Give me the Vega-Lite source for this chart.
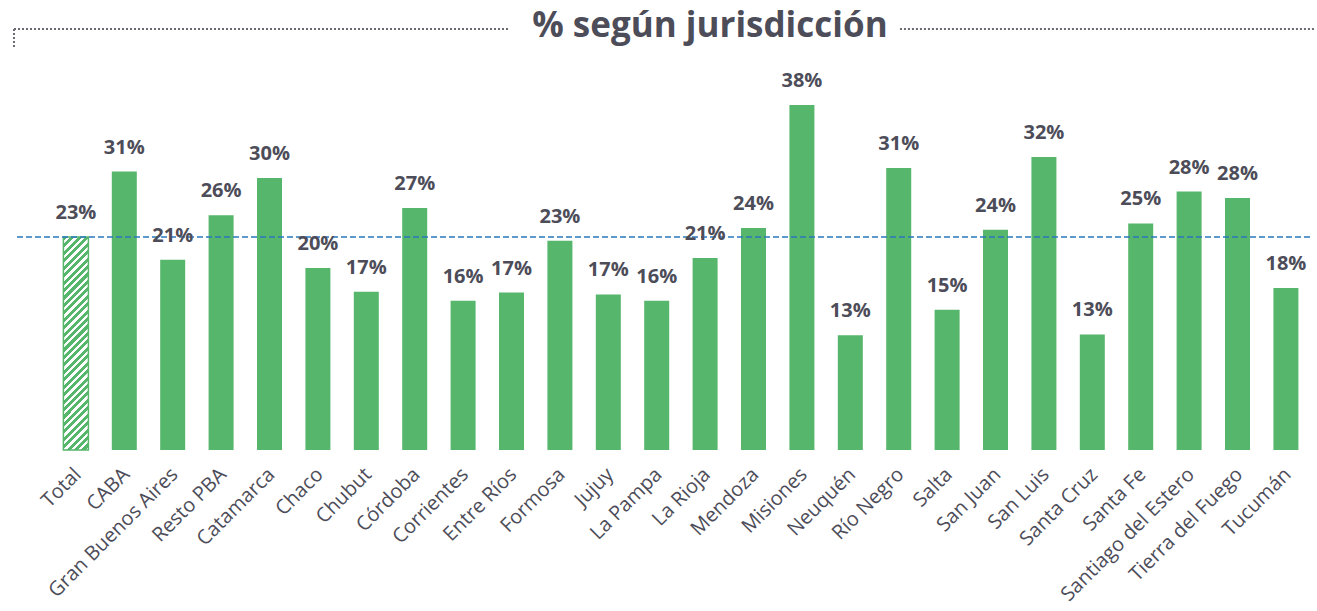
{
  "$schema": "https://vega.github.io/schema/vega-lite/v6.json",
  "autosize": {"type": "none"},
  "width": 1296,
  "height": 421,
  "padding": {"left": 14, "top": 29, "right": 7, "bottom": 161},
  "background": "#ffffff",
  "config": {"view": {"stroke": null}, "font": "Open Sans"},
  "layer": [
    {
      "data": {"values": [
        {"name": "Total", "value": 0.234},
        {"name": "CABA", "value": 0.306},
        {"name": "Gran Buenos Aires", "value": 0.209},
        {"name": "Resto PBA", "value": 0.258},
        {"name": "Catamarca", "value": 0.299},
        {"name": "Chaco", "value": 0.200},
        {"name": "Chubut", "value": 0.174},
        {"name": "Córdoba", "value": 0.266},
        {"name": "Corrientes", "value": 0.164},
        {"name": "Entre Ríos", "value": 0.173},
        {"name": "Formosa", "value": 0.230},
        {"name": "Jujuy", "value": 0.171},
        {"name": "La Pampa", "value": 0.164},
        {"name": "La Rioja", "value": 0.211},
        {"name": "Mendoza", "value": 0.244},
        {"name": "Misiones", "value": 0.379},
        {"name": "Neuquén", "value": 0.126},
        {"name": "Río Negro", "value": 0.310},
        {"name": "Salta", "value": 0.154},
        {"name": "San Juan", "value": 0.242},
        {"name": "San Luis", "value": 0.322},
        {"name": "Santa Cruz", "value": 0.127},
        {"name": "Santa Fe", "value": 0.249},
        {"name": "Santiago del Estero", "value": 0.284},
        {"name": "Tierra del Fuego", "value": 0.277},
        {"name": "Tucumán", "value": 0.178}
      ]},
      "encoding": {
        "x": {
          "field": "name", "type": "nominal",
          "sort": ["Total", "CABA", "Gran Buenos Aires", "Resto PBA", "Catamarca", "Chaco", "Chubut", "Córdoba", "Corrientes", "Entre Ríos", "Formosa", "Jujuy", "La Pampa", "La Rioja", "Mendoza", "Misiones", "Neuquén", "Río Negro", "Salta", "San Juan", "San Luis", "Santa Cruz", "Santa Fe", "Santiago del Estero", "Tierra del Fuego", "Tucumán"],
          "scale": {"paddingInner": 0.4835, "paddingOuter": 0.63, "align": 0.81, "round": false},
          "axis": {"title": null, "domain": false, "ticks": false, "grid": false, "labelAngle": -45, "labelFontSize": 20, "labelColor": "#4D4D59", "labelFont": "Open Sans", "labelPadding": 14, "labelOffset": -5, "labelLimit": 400}
        },
        "y": {
          "field": "value", "type": "quantitative",
          "scale": {"domain": [0, 0.4626], "nice": false, "zero": true},
          "axis": null
        }
      },
      "layer": [
        {
          "transform": [{"filter": "datum.name !== 'Total'"}],
          "mark": {"type": "bar", "color": "#56B66B"}
        },
        {
          "transform": [{"filter": "datum.name === 'Total'"}],
          "mark": {
            "type": "bar",
            "stroke": "#56B66B",
            "strokeWidth": 1.5,
            "fill": {
              "gradient": "linear", "x1": 0, "y1": 0, "x2": 0.1294, "y2": 1.1022,
              "stops": [
                {"offset": 0, "color": "#56B66B"}, {"offset": 0.0172, "color": "#56B66B"}, {"offset": 0.0172, "color": "#ffffff"}, {"offset": 0.03125, "color": "#ffffff"},
                {"offset": 0.03125, "color": "#56B66B"}, {"offset": 0.0484, "color": "#56B66B"}, {"offset": 0.0484, "color": "#ffffff"}, {"offset": 0.0625, "color": "#ffffff"},
                {"offset": 0.0625, "color": "#56B66B"}, {"offset": 0.0797, "color": "#56B66B"}, {"offset": 0.0797, "color": "#ffffff"}, {"offset": 0.09375, "color": "#ffffff"},
                {"offset": 0.09375, "color": "#56B66B"}, {"offset": 0.1109, "color": "#56B66B"}, {"offset": 0.1109, "color": "#ffffff"}, {"offset": 0.125, "color": "#ffffff"},
                {"offset": 0.125, "color": "#56B66B"}, {"offset": 0.1422, "color": "#56B66B"}, {"offset": 0.1422, "color": "#ffffff"}, {"offset": 0.15625, "color": "#ffffff"},
                {"offset": 0.15625, "color": "#56B66B"}, {"offset": 0.1734, "color": "#56B66B"}, {"offset": 0.1734, "color": "#ffffff"}, {"offset": 0.1875, "color": "#ffffff"},
                {"offset": 0.1875, "color": "#56B66B"}, {"offset": 0.2047, "color": "#56B66B"}, {"offset": 0.2047, "color": "#ffffff"}, {"offset": 0.21875, "color": "#ffffff"},
                {"offset": 0.21875, "color": "#56B66B"}, {"offset": 0.2359, "color": "#56B66B"}, {"offset": 0.2359, "color": "#ffffff"}, {"offset": 0.25, "color": "#ffffff"},
                {"offset": 0.25, "color": "#56B66B"}, {"offset": 0.2672, "color": "#56B66B"}, {"offset": 0.2672, "color": "#ffffff"}, {"offset": 0.28125, "color": "#ffffff"},
                {"offset": 0.28125, "color": "#56B66B"}, {"offset": 0.2984, "color": "#56B66B"}, {"offset": 0.2984, "color": "#ffffff"}, {"offset": 0.3125, "color": "#ffffff"},
                {"offset": 0.3125, "color": "#56B66B"}, {"offset": 0.3297, "color": "#56B66B"}, {"offset": 0.3297, "color": "#ffffff"}, {"offset": 0.34375, "color": "#ffffff"},
                {"offset": 0.34375, "color": "#56B66B"}, {"offset": 0.3609, "color": "#56B66B"}, {"offset": 0.3609, "color": "#ffffff"}, {"offset": 0.375, "color": "#ffffff"},
                {"offset": 0.375, "color": "#56B66B"}, {"offset": 0.3922, "color": "#56B66B"}, {"offset": 0.3922, "color": "#ffffff"}, {"offset": 0.40625, "color": "#ffffff"},
                {"offset": 0.40625, "color": "#56B66B"}, {"offset": 0.4234, "color": "#56B66B"}, {"offset": 0.4234, "color": "#ffffff"}, {"offset": 0.4375, "color": "#ffffff"},
                {"offset": 0.4375, "color": "#56B66B"}, {"offset": 0.4547, "color": "#56B66B"}, {"offset": 0.4547, "color": "#ffffff"}, {"offset": 0.46875, "color": "#ffffff"},
                {"offset": 0.46875, "color": "#56B66B"}, {"offset": 0.4859, "color": "#56B66B"}, {"offset": 0.4859, "color": "#ffffff"}, {"offset": 0.5, "color": "#ffffff"},
                {"offset": 0.5, "color": "#56B66B"}, {"offset": 0.5172, "color": "#56B66B"}, {"offset": 0.5172, "color": "#ffffff"}, {"offset": 0.53125, "color": "#ffffff"},
                {"offset": 0.53125, "color": "#56B66B"}, {"offset": 0.5484, "color": "#56B66B"}, {"offset": 0.5484, "color": "#ffffff"}, {"offset": 0.5625, "color": "#ffffff"},
                {"offset": 0.5625, "color": "#56B66B"}, {"offset": 0.5797, "color": "#56B66B"}, {"offset": 0.5797, "color": "#ffffff"}, {"offset": 0.59375, "color": "#ffffff"},
                {"offset": 0.59375, "color": "#56B66B"}, {"offset": 0.6109, "color": "#56B66B"}, {"offset": 0.6109, "color": "#ffffff"}, {"offset": 0.625, "color": "#ffffff"},
                {"offset": 0.625, "color": "#56B66B"}, {"offset": 0.6422, "color": "#56B66B"}, {"offset": 0.6422, "color": "#ffffff"}, {"offset": 0.65625, "color": "#ffffff"},
                {"offset": 0.65625, "color": "#56B66B"}, {"offset": 0.6734, "color": "#56B66B"}, {"offset": 0.6734, "color": "#ffffff"}, {"offset": 0.6875, "color": "#ffffff"},
                {"offset": 0.6875, "color": "#56B66B"}, {"offset": 0.7047, "color": "#56B66B"}, {"offset": 0.7047, "color": "#ffffff"}, {"offset": 0.71875, "color": "#ffffff"},
                {"offset": 0.71875, "color": "#56B66B"}, {"offset": 0.7359, "color": "#56B66B"}, {"offset": 0.7359, "color": "#ffffff"}, {"offset": 0.75, "color": "#ffffff"},
                {"offset": 0.75, "color": "#56B66B"}, {"offset": 0.7672, "color": "#56B66B"}, {"offset": 0.7672, "color": "#ffffff"}, {"offset": 0.78125, "color": "#ffffff"},
                {"offset": 0.78125, "color": "#56B66B"}, {"offset": 0.7984, "color": "#56B66B"}, {"offset": 0.7984, "color": "#ffffff"}, {"offset": 0.8125, "color": "#ffffff"},
                {"offset": 0.8125, "color": "#56B66B"}, {"offset": 0.8297, "color": "#56B66B"}, {"offset": 0.8297, "color": "#ffffff"}, {"offset": 0.84375, "color": "#ffffff"},
                {"offset": 0.84375, "color": "#56B66B"}, {"offset": 0.8609, "color": "#56B66B"}, {"offset": 0.8609, "color": "#ffffff"}, {"offset": 0.875, "color": "#ffffff"},
                {"offset": 0.875, "color": "#56B66B"}, {"offset": 0.8922, "color": "#56B66B"}, {"offset": 0.8922, "color": "#ffffff"}, {"offset": 0.90625, "color": "#ffffff"},
                {"offset": 0.90625, "color": "#56B66B"}, {"offset": 0.9234, "color": "#56B66B"}, {"offset": 0.9234, "color": "#ffffff"}, {"offset": 0.9375, "color": "#ffffff"},
                {"offset": 0.9375, "color": "#56B66B"}, {"offset": 0.9547, "color": "#56B66B"}, {"offset": 0.9547, "color": "#ffffff"}, {"offset": 0.96875, "color": "#ffffff"},
                {"offset": 0.96875, "color": "#56B66B"}, {"offset": 0.9859, "color": "#56B66B"}, {"offset": 0.9859, "color": "#ffffff"}, {"offset": 1, "color": "#ffffff"}
              ]
            }
          }
        },
        {
          "transform": [{"filter": "datum.name === 'Total'"}],
          "mark": {"type": "rule", "color": "#2A78BE", "strokeWidth": 1.5, "strokeDash": [6, 3]},
          "encoding": {"x": null}
        },
        {
          "mark": {"type": "text", "baseline": "alphabetic", "dy": -18, "fontSize": 20, "fontWeight": "bold", "font": "Open Sans", "color": "#4D4D59"},
          "encoding": {"text": {"field": "value", "type": "quantitative", "format": ".0%"}}
        }
      ]
    },
    {
      "data": {"values": [{}]},
      "layer": [
        {
          "mark": {"type": "rule", "color": "#6A6A72", "strokeWidth": 2, "strokeDash": [2, 2]},
          "encoding": {
            "x": {"datum": 0, "type": "quantitative", "scale": {"domain": [0, 1], "nice": false, "zero": false}, "axis": null},
            "x2": {"datum": 0.3827},
            "y": {"datum": 0.4626, "type": "quantitative"}
          }
        },
        {
          "mark": {"type": "rule", "color": "#6A6A72", "strokeWidth": 2, "strokeDash": [2, 2]},
          "encoding": {
            "x": {"datum": 0.6836, "type": "quantitative"},
            "x2": {"datum": 1.0039},
            "y": {"datum": 0.4626, "type": "quantitative"}
          }
        },
        {
          "mark": {"type": "rule", "color": "#6A6A72", "strokeWidth": 2, "strokeDash": [2, 2]},
          "encoding": {
            "x": {"datum": 0, "type": "quantitative"},
            "y": {"datum": 0.4626, "type": "quantitative"},
            "y2": {"datum": 0.4418}
          }
        },
        {
          "mark": {"type": "text", "text": "% según jurisdicción", "align": "center", "baseline": "alphabetic", "fontSize": 35, "fontWeight": "bold", "font": "Open Sans", "color": "#4D4D59"},
          "encoding": {
            "x": {"datum": 0.537, "type": "quantitative"},
            "y": {"datum": 0.4538, "type": "quantitative"}
          }
        }
      ]
    }
  ],
  "resolve": {"scale": {"x": "independent"}}
}
